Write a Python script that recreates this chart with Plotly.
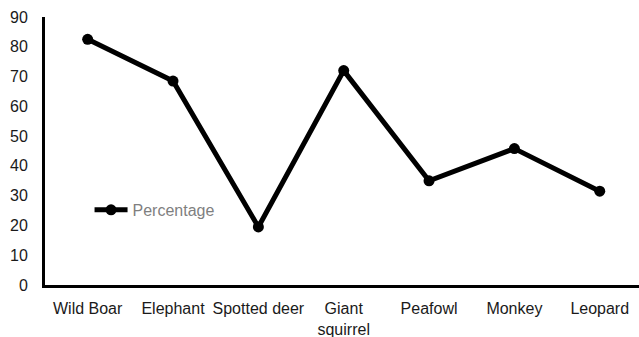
import plotly.graph_objects as go

# Share of respondents reporting each species
animals = ["Wild Boar", "Elephant", "Spotted deer", "Giant<br>squirrel",
           "Peafowl", "Monkey", "Leopard"]
percentage = [82.5, 68.5, 19.5, 72, 35, 45.8, 31.5]

y_ticks = list(range(0, 100, 10))

fig = go.Figure()
fig.add_trace(go.Scatter(
    x=animals,
    y=percentage,
    mode="lines+markers",
    name="Percentage",
    line=dict(color="black", width=5),
    marker=dict(color="black", size=11),
))

font = "Liberation Sans, Arial, sans-serif"

fig.update_layout(
    width=639,
    height=337,
    margin=dict(l=45, r=0, t=17, b=52),
    paper_bgcolor="white",
    plot_bgcolor="white",
    font=dict(family=font, size=16, color="#1a1a1a"),
    showlegend=True,
    legend=dict(
        x=0.075, y=0.28, xanchor="left", yanchor="middle",
        bgcolor="rgba(0,0,0,0)",
        font=dict(family=font, size=16, color="#7f7f7f"),
        itemwidth=33,
    ),
    xaxis=dict(
        type="category",
        range=[-0.5, 6.46],
        showgrid=False,
        showline=True,
        linecolor="black",
        linewidth=3,
        ticks="",
        ticklabelstandoff=7,
        automargin=False,
        tickfont=dict(family=font, size=16, color="#1a1a1a"),
        zeroline=False,
    ),
    yaxis=dict(
        range=[0, 90],
        tickvals=y_ticks,
        showgrid=False,
        showline=True,
        linecolor="black",
        linewidth=3,
        ticks="",
        ticklabelstandoff=11,
        automargin=False,
        tickfont=dict(family=font, size=16, color="#1a1a1a"),
        zeroline=False,
    ),
)

fig.write_html("out.html")
